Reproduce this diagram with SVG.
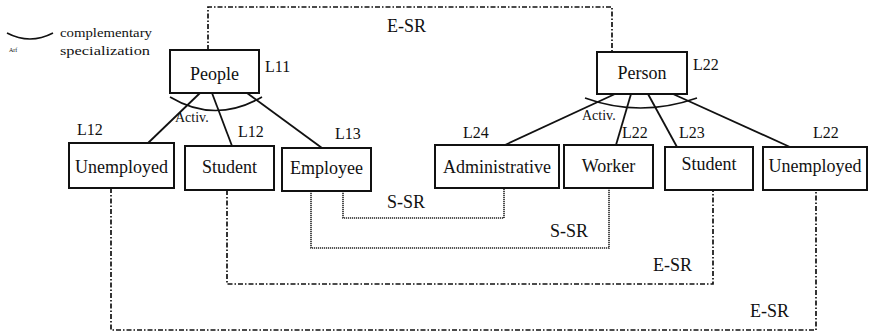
<svg xmlns="http://www.w3.org/2000/svg" width="871" height="334" viewBox="0 0 871 334">
  <style>
    text { font-family: "Liberation Serif", "DejaVu Serif", "Times New Roman", serif; fill: #111; }
    .box { fill: #fff; stroke: #111; stroke-width: 2; }
    .name { font-size: 18px; text-anchor: middle; }
    .lvl { font-size: 16px; }
    .small { font-size: 14px; }
    .rel { font-size: 18px; }
    .spec { fill: none; stroke: #111; stroke-width: 1.8; }
    .arc { fill: none; stroke: #111; stroke-width: 1.6; }
    .esr { fill: none; stroke: #111; stroke-width: 1.7; stroke-dasharray: 5 2 1.5 2; }
    .ssr { fill: none; stroke: #222; stroke-width: 1.6; stroke-dasharray: 1.2 0.8; }
  </style>

  <!-- legend -->
  <g id="legend">
    <path class="arc" d="M 7 33 Q 30 45 53 33"/>
    <text x="9" y="52" font-size="6">Arf</text>
    <text x="60" y="37" font-size="13" textLength="92" lengthAdjust="spacingAndGlyphs">complementary</text>
    <text x="60" y="55" font-size="13" textLength="90" lengthAdjust="spacingAndGlyphs">specialization</text>
  </g>

  <g id="connectors">
    <!-- specialization links -->
    <line class="spec" x1="200" y1="93" x2="147" y2="144"/>
    <line class="spec" x1="212" y1="93" x2="232" y2="146"/>
    <line class="spec" x1="247" y1="93" x2="322" y2="148"/>
    <line class="spec" x1="615" y1="94" x2="505" y2="145"/>
    <line class="spec" x1="631" y1="94" x2="616" y2="145"/>
    <line class="spec" x1="648" y1="94" x2="677" y2="147"/>
    <line class="spec" x1="673" y1="94" x2="790" y2="147"/>
    <!-- complementary specialization arcs -->
    <path class="arc" d="M 170 97 Q 215 124 262 97"/>
    <path class="arc" d="M 585 98 Q 640 118 697 98"/>
    <!-- equivalence relations -->
    <polyline class="esr" points="208,50 208,7 612,7 612,52"/>
    <polyline class="esr" points="227,190 227,284 713,284 713,190"/>
    <polyline class="esr" points="111,188 111,330 816,330 816,190"/>
    <!-- similarity relations -->
    <polyline class="ssr" points="343,191 343,218 504,218 504,188"/>
    <polyline class="ssr" points="311,191 311,248 609,248 609,188"/>
    <!-- relation labels -->
    <text class="rel" x="387" y="32">E-SR</text>
    <text class="rel" x="387" y="208">S-SR</text>
    <text class="rel" x="550" y="237">S-SR</text>
    <text class="rel" x="653" y="271">E-SR</text>
    <text class="rel" x="750" y="317">E-SR</text>
    <text class="small" x="175" y="122">Activ.</text>
    <text class="small" x="582" y="120">Activ.</text>
  </g>

  <g id="people">
    <rect class="box" x="170" y="50" width="89" height="43"/>
    <text class="name" x="214.5" y="80">People</text>
    <text class="lvl" x="265" y="72">L11</text>
  </g>
  <g id="unemployed-1">
    <rect class="box" x="69" y="143" width="105" height="45"/>
    <text class="name" x="121.5" y="173">Unemployed</text>
    <text class="lvl" x="77" y="135">L12</text>
  </g>
  <g id="student-1">
    <rect class="box" x="185" y="146" width="89" height="44"/>
    <text class="name" x="229.5" y="173">Student</text>
    <text class="lvl" x="238" y="137">L12</text>
  </g>
  <g id="employee">
    <rect class="box" x="282" y="148" width="89" height="43"/>
    <text class="name" x="326.5" y="174">Employee</text>
    <text class="lvl" x="335" y="139">L13</text>
  </g>

  <g id="person">
    <rect class="box" x="597" y="52" width="90" height="42"/>
    <text class="name" x="642" y="79">Person</text>
    <text class="lvl" x="693" y="70">L22</text>
  </g>
  <g id="administrative">
    <rect class="box" x="435" y="145" width="124" height="43"/>
    <text class="name" x="497" y="173">Administrative</text>
    <text class="lvl" x="463" y="138">L24</text>
  </g>
  <g id="worker">
    <rect class="box" x="564" y="145" width="89" height="43"/>
    <text class="name" x="608.5" y="172">Worker</text>
    <text class="lvl" x="622" y="138">L22</text>
  </g>
  <g id="student-2">
    <rect class="box" x="665" y="147" width="88" height="43"/>
    <text class="name" x="709" y="170">Student</text>
    <text class="lvl" x="679" y="138">L23</text>
  </g>
  <g id="unemployed-2">
    <rect class="box" x="763" y="147" width="104" height="43"/>
    <text class="name" x="815" y="172">Unemployed</text>
    <text class="lvl" x="813" y="138">L22</text>
  </g>
</svg>
